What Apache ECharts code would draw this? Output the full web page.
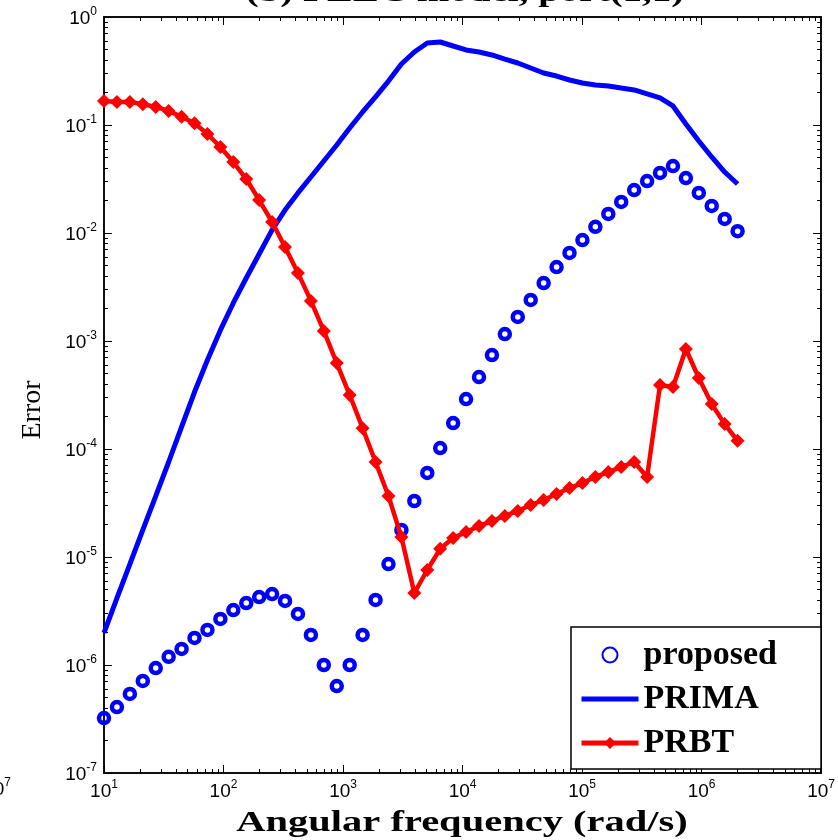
<!DOCTYPE html>
<html lang="en">
<head>
    <meta charset="UTF-8">
    <title>Error vs angular frequency</title>
    <script src="https://cdn.jsdelivr.net/npm/echarts/dist/echarts.min.js"></script>
    <style>
        html, body { margin: 0; padding: 0; background: #fff; }
        #chart { width: 838px; height: 840px; }
    </style>
</head>
<body>
    <div id="chart"></div>

    <script>
        // angular frequency samples (rad/s)
        var freq = [10, 12.83, 16.46, 21.12, 27.09, 34.75, 44.58, 57.2, 73.37, 94.13,
            120.8, 155.0, 198.7, 255.0, 327.1, 419.7, 538.4, 690.7, 886.1, 1137,
            1458, 1871, 2400, 3079, 3950, 5068, 6501, 8341, 10700, 13730,
            17610, 22590, 28980, 37180, 47700, 61200, 78520, 100700, 129200, 165800,
            212700, 272900, 350100, 449100, 576200, 739000, 948000, 1216000, 1561000, 2001000];

        // error of each method
        var proposed = [3.23e-7, 4.08e-7, 5.39e-7, 7.11e-7, 9.37e-7, 1.19e-6, 1.41e-6, 1.78e-6, 2.11e-6, 2.67e-6,
            3.23e-6, 3.75e-6, 4.26e-6, 4.54e-6, 3.92e-6, 2.97e-6, 1.90e-6, 1.0e-6, 6.39e-7, 1.0e-6,
            1.90e-6, 4.0e-6, 8.61e-6, 1.78e-5, 3.30e-5, 6.0e-5, 1.02e-4, 1.74e-4, 2.90e-4, 4.64e-4,
            7.41e-4, 1.16e-3, 1.67e-3, 2.40e-3, 3.44e-3, 4.84e-3, 6.53e-3, 8.61e-3, 1.14e-2, 1.50e-2,
            1.94e-2, 2.50e-2, 3.03e-2, 3.60e-2, 4.17e-2, 3.23e-2, 2.35e-2, 1.78e-2, 1.35e-2, 1.04e-2];
        var prima = [1.98e-6, 4.17e-6, 8.61e-6, 1.78e-5, 3.67e-5, 7.58e-5, 1.60e-4, 3.37e-4, 6.67e-4, 1.26e-3,
            2.25e-3, 3.83e-3, 6.39e-3, 1.07e-2, 1.63e-2, 2.35e-2, 3.30e-2, 4.64e-2, 6.53e-2, 9.38e-2,
            0.132, 0.182, 0.255, 0.367, 0.474, 0.574, 0.587, 0.539, 0.495, 0.474,
            0.445, 0.408, 0.375, 0.337, 0.303, 0.284, 0.261, 0.245, 0.235, 0.230,
            0.220, 0.211, 0.194, 0.178, 0.150, 0.102, 0.0711, 0.0506, 0.0367, 0.0284];
        var prbt = [0.167, 0.163, 0.163, 0.156, 0.147, 0.135, 0.119, 0.104, 0.0826, 0.0626,
            0.0454, 0.0316, 0.0202, 0.01264, 0.00742, 0.00427, 0.00235, 0.00124, 6.25e-4, 3.16e-4,
            1.56e-4, 7.58e-5, 3.67e-5, 1.53e-5, 4.64e-6, 7.58e-6, 1.19e-5, 1.50e-5, 1.70e-5, 1.94e-5,
            2.15e-5, 2.40e-5, 2.67e-5, 3.03e-5, 3.37e-5, 3.83e-5, 4.35e-5, 4.84e-5, 5.51e-5, 6.12e-5,
            6.81e-5, 7.58e-5, 5.51e-5, 3.92e-4, 3.75e-4, 8.43e-4, 4.54e-4, 2.61e-4, 1.70e-4, 1.19e-4];

        // decade ticks
        var xTicks = [1e1, 1e2, 1e3, 1e4, 1e5, 1e6, 1e7];
        var yTicks = [1e-7, 1e-6, 1e-5, 1e-4, 1e-3, 1e-2, 1e-1, 1e0];

        var chart = echarts.init(document.getElementById('chart'));

        // 2..9 inside each decade
        function minorValues(ticks) {
            var out = [];
            for (var i = 0; i < ticks.length - 1; i++) {
                for (var m = 2; m <= 9; m++) out.push(ticks[i] * m);
            }
            return out;
        }

        function supLabel(v) {
            return '{b|10}{s|' + Math.round(Math.log10(v)) + '}';
        }

        var rich = {
            b: { fontFamily: 'Liberation Sans, Arial, sans-serif', fontSize: 19, color: '#000', verticalAlign: 'bottom' },
            s: { fontFamily: 'Liberation Sans, Arial, sans-serif', fontSize: 12, color: '#000', verticalAlign: 'top', padding: [0, 0, 10, 0] }
        };

        function makeAxis(kind, pos, minor, labels) {
            var ticks = kind === 'x' ? xTicks : yTicks;
            return {
                type: 'log',
                logBase: 10,
                min: ticks[0],
                max: ticks[ticks.length - 1],
                position: pos,
                axisLine: { show: true, onZero: false, lineStyle: { color: '#000', width: 1.5 } },
                axisTick: {
                    show: true, inside: true, length: minor ? 4 : 8,
                    customValues: minor ? minorValues(ticks) : ticks,
                    lineStyle: { color: '#000', width: 1 }
                },
                axisLabel: {
                    show: labels, customValues: ticks, formatter: supLabel, rich: rich,
                    margin: kind === 'x' ? 6 : 7
                },
                splitLine: { show: false },
                minorTick: { show: false }
            };
        }

        var option = {
            animation: false,
            backgroundColor: '#fff',
            grid: { left: 104, right: 16, top: 17, bottom: 67 },
            xAxis: [
                makeAxis('x', 'bottom', false, true),
                makeAxis('x', 'bottom', true, false),
                makeAxis('x', 'top', false, false),
                makeAxis('x', 'top', true, false)
            ],
            yAxis: [
                makeAxis('y', 'left', false, true),
                makeAxis('y', 'left', true, false),
                makeAxis('y', 'right', false, false),
                makeAxis('y', 'right', true, false)
            ],
            legend: {
                orient: 'vertical',
                left: 571,
                top: 627,
                data: ['proposed', { name: 'PRIMA', itemStyle: { opacity: 0 } }, 'PRBT'],
                selectedMode: false,
                backgroundColor: '#fff',
                borderColor: '#000',
                borderWidth: 1.5,
                borderRadius: 0,
                padding: [11, 44, 9, 8],
                itemWidth: 57,
                itemHeight: 15,
                itemGap: 10,
                lineStyle: { width: 5 },
                textStyle: {
                    fontFamily: 'Liberation Serif, Times New Roman, serif',
                    fontWeight: 'bold', fontSize: 34, color: '#000', lineHeight: 31
                }
            },
            graphic: [
                {
                    type: 'text', x: 465, y: 8, scaleX: 1.3,
                    style: { text: '(b) PEEC model, port(1,1)', font: 'bold 30px "Liberation Serif"', fill: '#000', align: 'center', verticalAlign: 'bottom' }
                },
                {
                    type: 'text', x: 462, y: 823, scaleX: 1.35,
                    style: { text: 'Angular frequency (rad/s)', font: 'bold 30px "Liberation Serif"', fill: '#000', align: 'center', verticalAlign: 'middle' }
                },
                {
                    type: 'text', x: 33, y: 410, rotation: Math.PI / 2,
                    style: { text: 'Error', font: '28px "Liberation Serif"', fill: '#000', align: 'center', verticalAlign: 'middle' }
                },
                {
                    type: 'text', x: 11, y: 788,
                    style: { text: '{b|10}{s|7}', rich: rich, align: 'right', verticalAlign: 'middle' }
                }
            ],
            series: [
                {
                    name: 'proposed',
                    type: 'scatter',
                    data: freq.map(function (f, i) { return [f, proposed[i]]; }),
                    symbol: 'circle',
                    symbolSize: 10,
                    itemStyle: { color: 'rgba(255,255,255,0)', borderColor: '#0000ff', borderWidth: 4.5, opacity: 1 }
                },
                {
                    name: 'PRIMA',
                    type: 'line',
                    data: freq.map(function (f, i) { return [f, prima[i]]; }),
                    symbol: 'none',
                    showSymbol: false,
                    color: '#0000ff',
                    lineStyle: { color: '#0000ff', width: 5 }
                },
                {
                    name: 'PRBT',
                    type: 'line',
                    data: freq.map(function (f, i) { return [f, prbt[i]]; }),
                    symbol: 'diamond',
                    symbolSize: [14, 14],
                    color: '#ff0000',
                    itemStyle: { color: '#ff0000' },
                    lineStyle: { color: '#ff0000', width: 4.5 }
                }
            ]
        };

        chart.setOption(option);
    </script>
</body>
</html>
